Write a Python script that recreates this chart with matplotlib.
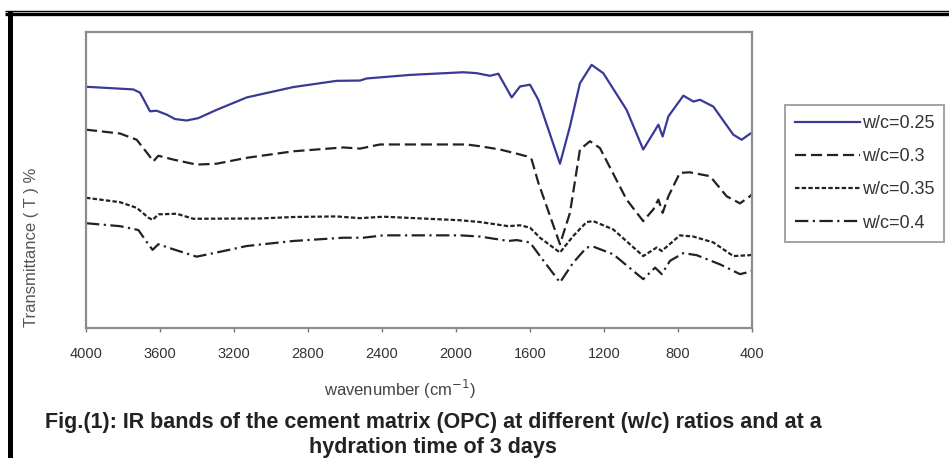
import numpy as np
import matplotlib.pyplot as plt
from matplotlib.lines import Line2D

# ---- data: wavenumber (cm-1) and transmittance (arb. units) ----
wn_025 = [4000, 3744, 3708, 3654, 3618, 3564, 3519, 3456, 3393, 3294, 3131, 2879, 2645,
          2519, 2483, 2249, 1961, 1889, 1816, 1771, 1699, 1654, 1600, 1555, 1438, 1384,
          1330, 1267, 1204, 1078, 988, 933, 906, 883, 852, 771, 717, 681, 609, 501, 456, 411, 400]
t_025 = [81.5, 80.6, 79.5, 73.2, 73.4, 72.1, 70.6, 70.1, 70.9, 73.7, 77.9, 81.4, 83.5,
         83.6, 84.3, 85.5, 86.4, 86.1, 85.2, 85.9, 77.9, 81.6, 82.2, 77.1, 55.5, 68.1,
         82.7, 88.9, 86.1, 73.7, 60.3, 65.9, 68.7, 64.7, 71.5, 78.5, 76.5, 77.1, 74.8, 65.3, 63.6, 65.6, 66.0]

wn_030 = [4000, 3816, 3726, 3663, 3636, 3609, 3528, 3402, 3294, 3131, 2879, 2609, 2519,
          2411, 1942, 1870, 1762, 1672, 1618, 1591, 1555, 1438, 1384, 1330, 1276, 1222,
          1078, 988, 933, 906, 883, 852, 790, 737, 627, 537, 465, 411, 400]
t_030 = [67.0, 65.7, 63.6, 58.6, 56.3, 58.2, 56.9, 55.2, 55.5, 57.5, 59.7, 61.0, 60.6,
         62.0, 62.0, 61.4, 60.3, 58.9, 58.0, 56.9, 49.1, 28.3, 38.9, 60.3, 63.1, 60.8,
         43.4, 36.1, 40.1, 43.4, 38.9, 44.5, 52.4, 52.6, 51.3, 44.5, 42.1, 44.5, 45.2]

wn_035 = [4000, 3816, 3726, 3663, 3640, 3609, 3510, 3420, 3060, 2879, 2645, 2519, 2393,
          1978, 1870, 1717, 1654, 1600, 1546, 1438, 1366, 1294, 1258, 1150, 988, 915,
          888, 790, 717, 609, 501, 411, 400]
t_035 = [44.0, 42.5, 40.6, 37.3, 36.5, 38.4, 38.6, 36.9, 37.0, 37.5, 37.7, 37.1, 37.6,
         36.4, 35.8, 34.4, 34.7, 33.9, 30.5, 25.5, 31.1, 35.8, 36.1, 33.3, 24.3, 27.2,
         26.0, 31.3, 30.9, 28.9, 24.3, 24.6, 24.8]

wn_040 = [4000, 3816, 3717, 3663, 3640, 3609, 3528, 3402, 3294, 3131, 2879, 2609, 2501,
          2393, 1978, 1870, 1717, 1672, 1600, 1546, 1438, 1366, 1294, 1258, 1150, 988,
          924, 888, 843, 771, 699, 573, 465, 411, 400]
t_040 = [35.4, 34.4, 33.1, 28.3, 26.4, 28.3, 26.6, 24.1, 25.5, 27.7, 29.4, 30.5, 30.5,
         31.3, 31.3, 30.9, 29.4, 29.7, 28.9, 24.3, 15.4, 22.1, 27.2, 27.5, 24.9, 16.5,
         20.4, 18.2, 22.7, 25.3, 24.6, 21.5, 18.2, 19.0, 19.3]

labels = ['w/c=0.25', 'w/c=0.3', 'w/c=0.35', 'w/c=0.4']
xticks = [4000, 3600, 3200, 2800, 2400, 2000, 1600, 1200, 800, 400]

sans = ['Liberation Sans', 'DejaVu Sans']
W, H = 949, 458
fig = plt.figure(figsize=(W / 100, H / 100), dpi=100)

# ---- page frame (double rule on top, thick rule at the left) ----
fig.add_artist(Line2D([5 / W, 1], [1 - 10.5 / H] * 2, color='black', lw=1.0, solid_capstyle='butt'))
fig.add_artist(Line2D([5 / W, 1], [1 - 14 / H] * 2, color='black', lw=2.4, solid_capstyle='butt'))
fig.add_artist(Line2D([9.5 / W] * 2, [0, 1 - 11 / H], color='black', lw=3.6, solid_capstyle='butt'))

ax = fig.add_axes([86 / W, 1 - 328 / H, 666 / W, 296 / H])

ink = '#222222'
ax.plot(wn_025, t_025, color='#3a3a96', lw=1.6, label=labels[0])
ax.plot(wn_030, t_030, color=ink, lw=1.6, dashes=(5, 2.2), label=labels[1])
ax.plot(wn_035, t_035, color=ink, lw=1.6, dashes=(2, 1), label=labels[2])
ax.plot(wn_040, t_040, color=ink, lw=1.6, dashes=(6, 2, 1, 2), label=labels[3])

ax.set_xlim(4000, 400)
ax.set_ylim(0, 100)
ax.set_xticks(xticks)
ax.set_xticklabels([str(v) for v in xticks], family=sans, fontsize=10.5, color='#333333')
ax.set_yticks([])
ax.tick_params(axis='x', direction='out', length=3, width=1, color='#777777', pad=11)
for sp in ax.spines.values():
    sp.set_color('#8c8c8c')
    sp.set_linewidth(1.6)

fig.text(400 / W, 1 - 389 / H, 'wavenumber (cm$^{-1}$)', ha='center', va='center',
         family=sans, fontsize=12, color='#444444')
fig.text(32 / W, 1 - 247 / H, 'Transmittance ( T ) %', ha='center', va='center',
         rotation=90, family=sans, fontsize=12, color='#555555')

leg = fig.legend(loc='upper left', bbox_to_anchor=(785 / W, 1 - 105 / H), borderaxespad=0,
                 frameon=True, fancybox=False, handlelength=3.6, handletextpad=0.1,
                 labelspacing=0.9, borderpad=0.55, prop={'family': sans, 'size': 13})
leg.get_frame().set_edgecolor('#8c8c8c')
leg.get_frame().set_linewidth(1.4)
for t in leg.get_texts():
    t.set_color('#333333')

fig.text(433 / W, 1 - 435 / H,
         'Fig.(1): IR bands of the cement matrix (OPC) at different (w/c) ratios and at a\nhydration time of 3 days',
         ha='center', va='center', family=sans,
         fontweight='bold', fontsize=15.5, color='#222222', linespacing=1.2)

fig.savefig('out.png', dpi=100)
